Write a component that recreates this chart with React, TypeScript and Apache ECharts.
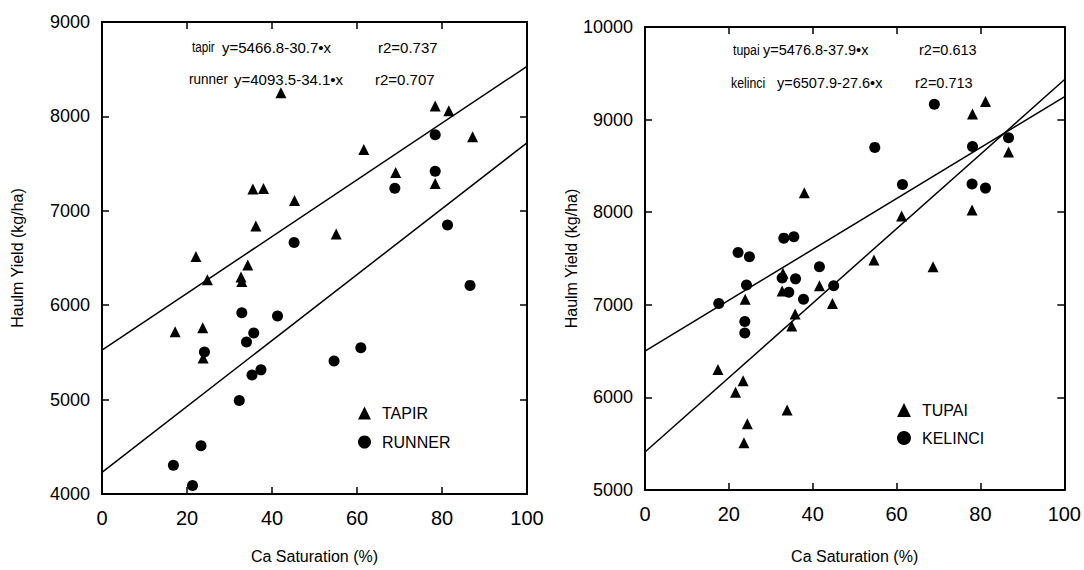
import React, { useEffect, useRef } from "react";
import * as echarts from "echarts";

// ---- Data ----
const tapir: [number, number][] = [
  [42.1, 8250], [78.4, 8110], [81.6, 8060], [87.2, 7785], [61.6, 7650],
  [69.1, 7405], [78.4, 7290], [35.5, 7230], [38.0, 7235], [45.3, 7110],
  [36.2, 6840], [55.1, 6755], [22.1, 6515], [34.3, 6425], [24.8, 6270],
  [32.7, 6300], [32.9, 6250], [23.7, 5760], [17.2, 5720], [23.8, 5440],
];
const runner: [number, number][] = [
  [78.4, 7805], [78.4, 7420], [68.9, 7240], [45.2, 6665], [81.3, 6850],
  [86.6, 6210], [32.9, 5920], [41.3, 5885], [35.7, 5705], [34.0, 5610],
  [24.1, 5505], [60.9, 5550], [54.6, 5410], [37.4, 5315], [35.3, 5260],
  [32.3, 4990], [23.3, 4510], [16.8, 4305], [21.3, 4090],
];
const tupai: [number, number][] = [
  [81.2, 9195], [78.1, 9060], [86.7, 8650], [38.0, 8210], [78.0, 8025],
  [61.2, 7960], [54.6, 7485], [68.7, 7410], [32.9, 7340], [41.6, 7205],
  [32.7, 7150], [23.9, 7060], [44.7, 7015], [35.8, 6900], [35.0, 6770],
  [17.4, 6300], [23.4, 6180], [21.6, 6055], [33.9, 5865], [24.4, 5715],
  [23.6, 5510],
];
const kelinci: [number, number][] = [
  [69.0, 9165], [86.7, 8805], [54.8, 8700], [78.1, 8710], [61.4, 8300],
  [78.0, 8305], [81.2, 8260], [33.1, 7720], [35.5, 7735], [22.2, 7565],
  [24.9, 7520], [41.6, 7410], [32.7, 7290], [35.9, 7280], [24.2, 7215],
  [45.0, 7205], [34.3, 7135], [37.8, 7060], [17.6, 7015], [23.8, 6820],
  [23.8, 6695],
];
// fitted regression lines as drawn
const tapirFit: [number, number][] = [[0, 5525], [100, 8530]];
const runnerFit: [number, number][] = [[0, 4230], [100, 7720]];
const tupaiFit: [number, number][] = [[0, 5410], [100, 9430]];
const kelinciFit: [number, number][] = [[0, 6500], [100, 9245]];

const leftEq = [
  { name: "tapir", eq: "y=5466.8-30.7•x", r2: "r2=0.737" },
  { name: "runner", eq: "y=4093.5-34.1•x", r2: "r2=0.707" },
];
const rightEq = [
  { name: "tupai", eq: "y=5476.8-37.9•x", r2: "r2=0.613" },
  { name: "kelinci", eq: "y=6507.9-27.6•x", r2: "r2=0.713" },
];

const xTitle = "Ca Saturation (%)";
const yTitle = "Haulm Yield (kg/ha)";

const FONT = "'Liberation Sans', Arial, Helvetica, sans-serif";
const BLACK = "#000";

function xAx(grid: number, pos: "bottom" | "top", nameGap: number) {
  const main = pos === "bottom";
  return {
    gridIndex: grid,
    type: "value",
    min: 0,
    max: 100,
    interval: 20,
    position: pos,
    axisLine: { show: true, onZero: false, lineStyle: { color: BLACK, width: 2 } },
    axisTick: { show: true, inside: true, length: 7, lineStyle: { color: BLACK, width: 1.5 } },
    axisLabel: {
      show: main,
      fontSize: 20,
      color: BLACK,
      margin: 14,
      fontFamily: FONT,
      formatter: (v: number) => String(v),
    },
    splitLine: { show: false },
    name: main ? xTitle : "",
    nameLocation: "middle",
    nameGap,
    nameTextStyle: { fontSize: 16, color: BLACK, fontFamily: FONT },
  };
}

function yAx(grid: number, pos: "left" | "right", min: number, max: number, nameGap: number) {
  const main = pos === "left";
  return {
    gridIndex: grid,
    type: "value",
    min,
    max,
    interval: 1000,
    position: pos,
    axisLine: { show: true, onZero: false, lineStyle: { color: BLACK, width: 2 } },
    axisTick: { show: true, inside: true, length: 7, lineStyle: { color: BLACK, width: 1.5 } },
    axisLabel: {
      show: main,
      fontSize: 18,
      color: BLACK,
      margin: 12,
      fontFamily: FONT,
      formatter: (v: number) => String(v),
    },
    splitLine: { show: false },
    name: main ? yTitle : "",
    nameLocation: "middle",
    nameGap,
    nameRotate: 90,
    nameTextStyle: { fontSize: 16, color: BLACK, fontFamily: FONT },
  };
}

function scatter(name: string, data: [number, number][], grid: number, symbol: string) {
  return {
    name,
    type: "scatter",
    xAxisIndex: grid * 2,
    yAxisIndex: grid * 2,
    data,
    symbol,
    symbolSize: 11,
    itemStyle: { color: BLACK, opacity: 1 },
  };
}

function fit(data: [number, number][], grid: number) {
  return {
    type: "line",
    xAxisIndex: grid * 2,
    yAxisIndex: grid * 2,
    data,
    symbol: "none",
    lineStyle: { color: BLACK, width: 1.5 },
    silent: true,
  };
}

function eqTexts(
  rows: typeof leftEq,
  xs: number[][],
  nameScale: number[],
  ys: number[],
  fs: number
) {
  const els: any[] = [];
  rows.forEach((r, i) => {
    const parts: [string, number, number][] = [
      [r.name, xs[i][0], nameScale[i]],
      [r.eq, xs[i][1], 1],
      [r.r2, xs[i][2], 1],
    ];
    parts.forEach(([t, x, sx]) => {
      els.push({
        type: "text",
        x,
        y: ys[i],
        scaleX: sx,
        style: { text: t, fontSize: fs, fill: BLACK, fontFamily: FONT, verticalAlign: "middle" },
      });
    });
  });
  return els;
}

export default function App() {
  const ref = useRef<HTMLDivElement>(null);
  useEffect(() => {
    if (!ref.current) return;
    const chart = echarts.init(ref.current, null, { renderer: "svg" });
    chart.setOption({
      animation: false,
      backgroundColor: "#fff",
      grid: [
        { left: 102, top: 22, width: 425, height: 472 },
        { left: 645, top: 27, width: 421, height: 463 },
      ],
      xAxis: [xAx(0, "bottom", 54), xAx(0, "top", 0), xAx(1, "bottom", 58), xAx(1, "top", 0)],
      yAxis: [
        yAx(0, "left", 4000, 9000, 77),
        yAx(0, "right", 4000, 9000, 0),
        yAx(1, "left", 5000, 10000, 61),
        yAx(1, "right", 5000, 10000, 0),
      ],
      legend: [
        {
          data: [
            { name: "TAPIR", icon: "triangle" },
            { name: "RUNNER", icon: "circle" },
          ],
          orient: "vertical",
          left: 353,
          top: 400,
          itemWidth: 13,
          itemHeight: 13,
          itemGap: 13,
          selectedMode: false,
          textStyle: { fontSize: 16, color: BLACK, fontFamily: FONT, padding: [0, 0, 0, 6] },
        },
        {
          data: [
            { name: "TUPAI", icon: "triangle" },
            { name: "KELINCI", icon: "circle" },
          ],
          orient: "vertical",
          left: 892,
          top: 397,
          itemWidth: 14,
          itemHeight: 14,
          itemGap: 12,
          selectedMode: false,
          textStyle: { fontSize: 16, color: BLACK, fontFamily: FONT, padding: [0, 0, 0, 6] },
        },
      ],
      series: [
        scatter("TAPIR", tapir, 0, "triangle"),
        scatter("RUNNER", runner, 0, "circle"),
        fit(tapirFit, 0),
        fit(runnerFit, 0),
        scatter("TUPAI", tupai, 1, "triangle"),
        scatter("KELINCI", kelinci, 1, "circle"),
        fit(tupaiFit, 1),
        fit(kelinciFit, 1),
      ],
      graphic: [
        ...eqTexts(leftEq, [[192, 222, 378], [189, 234, 375]], [0.78, 0.9], [47, 79], 15),
        ...eqTexts(rightEq, [[733, 763, 919], [731, 777, 915]], [0.85, 0.85], [50, 83], 14.5),
      ],
    });
    return () => chart.dispose();
  }, []);
  return (
    <div
      ref={ref}
      style={{ position: "absolute", left: 0, top: 0, width: 1084, height: 570, background: "#fff" }}
    />
  );
}
